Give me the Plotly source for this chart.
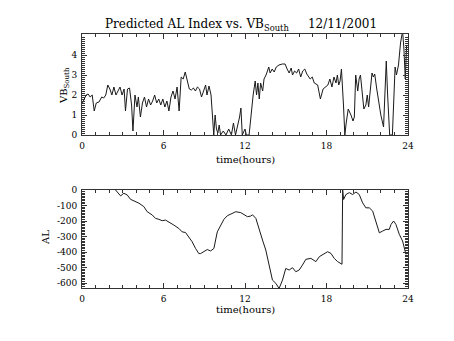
import plotly.graph_objects as go
from plotly.subplots import make_subplots

# ---- VB_South (top panel) ----
vb_hours = [
    0.0, 0.15, 0.3, 0.45, 0.6, 0.75, 0.9, 1.05, 1.25, 1.45, 1.6, 1.75, 1.9, 2.05, 2.2,
    2.35, 2.5, 2.65, 2.8, 2.95, 3.1, 3.2, 3.35, 3.5, 3.65, 3.75, 3.9, 4.05, 4.15, 4.3,
    4.45, 4.6, 4.75, 4.9, 5.05, 5.2, 5.35, 5.5, 5.65, 5.8, 5.95, 6.1, 6.25, 6.4, 6.55,
    6.7, 6.85, 7.0, 7.15, 7.3, 7.45, 7.6, 7.75, 7.9, 8.05, 8.2, 8.35, 8.5, 8.65, 8.8,
    8.95, 9.1, 9.2, 9.35, 9.5, 9.6, 9.7, 9.8, 9.9, 10.0, 10.1, 10.2, 10.4, 10.6, 10.8,
    11.0, 11.15, 11.3, 11.45, 11.6, 11.7, 11.8, 12.0, 12.1, 12.3, 12.45, 12.6, 12.75,
    12.85, 12.95, 13.05, 13.15, 13.3, 13.4, 13.55, 13.75, 13.85, 14.0, 14.15, 14.3,
    14.5, 14.75, 14.95, 15.1, 15.25, 15.4, 15.5, 15.65, 15.8, 15.95, 16.1, 16.25, 16.4,
    16.55, 16.8, 16.95, 17.1, 17.35, 17.55, 17.75, 17.9, 18.1, 18.25, 18.4, 18.55, 18.7,
    18.8, 18.9, 19.0, 19.1, 19.25, 19.35, 19.45, 19.6, 19.8, 19.95, 20.05, 20.15, 20.3,
    20.4, 20.5, 20.65, 20.75, 20.9, 21.0, 21.1, 21.25, 21.35, 21.45, 21.55, 21.7, 21.8,
    22.0, 22.2, 22.4, 22.5, 22.65, 22.85, 22.95, 23.05, 23.15, 23.3, 23.45, 23.6, 23.7,
    23.8, 23.9,
]
vb_south = [
    1.55, 1.8, 2.0, 2.05, 1.9, 2.0, 1.2, 1.6, 1.65, 1.9, 1.85, 2.0, 2.5, 2.3, 2.0,
    2.4, 2.0, 2.2, 2.4, 2.0, 2.3, 1.2, 2.3, 2.35, 1.5, 0.2, 2.0, 1.4, 1.9, 0.9,
    1.6, 1.9, 1.4, 1.8, 1.5, 1.7, 2.0, 1.6, 1.8, 1.5, 1.8, 1.4, 1.7, 1.2, 1.9,
    2.2, 1.8, 2.4, 1.2, 2.9, 2.8, 3.15, 2.7, 2.3, 2.25, 2.35, 2.2, 2.4, 2.3, 1.9,
    2.2, 2.5, 2.0, 2.45, 2.0, 1.0, 0.0, 1.0, 0.3, 0.1, 0.5, 0.0, 0.2, 0.0, 0.3,
    0.0, 0.6, 0.0, 0.4, 0.9, 1.35, 0.0, 0.3, 0.0, 0.0, 1.2, 2.0, 2.7,
    2.0, 2.6, 1.8, 2.6, 2.2, 2.8, 3.0, 3.4, 3.1, 3.3, 3.15, 3.4,
    3.5, 3.55, 3.55, 3.3, 3.1, 3.35, 3.0, 3.2, 3.1, 3.3, 2.9, 3.2, 3.3,
    3.05, 2.8, 2.9, 2.6, 2.5, 1.8, 2.3, 2.4, 2.5, 2.8, 2.4, 2.9, 2.6,
    3.0, 2.5, 2.7, 3.3, 1.5, 0.0, 0.6, 1.3, 1.0, 0.7, 0.9, 3.0, 2.2,
    2.8, 3.0, 2.0, 1.3, 1.5, 2.0, 1.4, 2.6, 3.1, 2.9, 3.05, 2.3, 1.8,
    1.0, 0.4, 3.7, 2.0, 0.0, 0.0, 1.5, 3.4, 3.0, 3.5, 4.6, 5.2, 4.3,
    2.8, 4.5,
]

# ---- Predicted AL index (bottom panel) ----
al_hours = [
    2.47, 2.84, 3.08, 3.33, 3.57, 3.94, 4.19, 4.55, 4.8, 5.17, 5.41, 5.66, 5.9, 6.15,
    6.39, 6.76, 7.13, 7.37, 7.62, 7.86, 8.11, 8.36, 8.6, 8.73, 8.97, 9.22, 9.47, 9.71,
    9.96, 10.2, 10.45, 10.7, 11.0, 11.32, 11.69, 11.94, 12.18, 12.43, 12.55, 12.8,
    13.04, 13.29, 13.53, 13.78, 14.02, 14.27, 14.51, 14.76, 15.0, 15.25, 15.5, 15.74,
    15.99, 16.23, 16.48, 16.85, 17.22, 17.47, 17.83, 18.08, 18.33, 18.57, 18.82, 19.14,
    19.19, 19.26, 19.43, 19.68, 19.92, 20.17, 20.41, 20.66, 20.9, 21.15, 21.4, 21.64,
    21.89, 22.13, 22.38, 22.62, 22.75, 22.94, 23.11, 23.36, 23.6, 23.85,
]
al_index = [
    0, -38, -21, -32, -60, -75, -85, -107, -140, -161, -183, -189, -198, -194,
    -205, -226, -248, -270, -274, -302, -334, -377, -410, -410, -395, -384, -393, -377,
    -270, -226, -189, -166, -151, -140, -146, -161, -172, -168, -160, -183,
    -259, -323, -387, -495, -581, -602, -635, -581, -506, -516, -501, -527,
    -516, -484, -447, -441, -462, -430, -409, -398, -409, -441, -462, -479,
    0, -61, -29, -17, -29, -13, -29, -83, -115, -115, -136, -211,
    -276, -265, -254, -254, -222, -200, -222, -286, -329, -415,
]

hour_ticks = [0, 6, 12, 18, 24]
vb_ticks = [0, 1, 2, 3, 4]
al_ticks = [0, -100, -200, -300, -400, -500, -600]
al_tick_text = ["0", "-100", "-200", "-300", "-400", "-500", "-600"]

FONT = "DejaVu Serif"
INK = "#333333"

W, H = 454, 341
ML, MR, MT, MB = 82, 46, 34, 53
PW = W - ML - MR
PH = H - MT - MB


def py(px):
    """Pixel row -> paper fraction."""
    return (H - MB - px) / PH


def px_x(px):
    """Pixel column -> paper fraction."""
    return (px - ML) / PW


fig = make_subplots(rows=2, cols=1)
fig.add_trace(go.Scatter(x=vb_hours, y=vb_south, mode="lines",
                         line=dict(color="#1a1a1a", width=1)), row=1, col=1)
fig.add_trace(go.Scatter(x=al_hours, y=al_index, mode="lines",
                         line=dict(color="#1a1a1a", width=1)), row=2, col=1)

axis_common = dict(
    showline=True, linecolor=INK, linewidth=1, mirror="ticks",
    ticks="inside", ticklen=5, tickcolor=INK, tickwidth=1,
    showgrid=False, zeroline=False,
    tickfont=dict(family=FONT, size=9, color="black"),
)

fig.update_layout(
    xaxis=dict(axis_common, domain=[0, 1], range=[0, 24], tickvals=hour_ticks,
               minor=dict(dtick=1, ticklen=3, ticks="inside", tickcolor=INK),
               ticklabelstandoff=2, anchor="y"),
    yaxis=dict(axis_common, domain=[py(135), py(34)], range=[0, 5.05],
               tickvals=vb_ticks,
               minor=dict(dtick=0.1, ticklen=3, ticks="inside", tickcolor=INK),
               ticklabelstandoff=2, anchor="x"),
    xaxis2=dict(axis_common, domain=[0, 1], range=[0, 24], tickvals=hour_ticks,
                minor=dict(dtick=1, ticklen=3, ticks="inside", tickcolor=INK),
                ticklabelstandoff=2, anchor="y2"),
    yaxis2=dict(axis_common, domain=[0, py(190)], range=[-632, 0],
                tickvals=al_ticks, ticktext=al_tick_text,
                minor=dict(dtick=10, ticklen=3, ticks="inside", tickcolor=INK),
                ticklabelstandoff=2, anchor="x2"),
    width=W, height=H,
    margin=dict(l=ML, r=MR, t=MT, b=MB),
    paper_bgcolor="white", plot_bgcolor="white",
    showlegend=False,
    font=dict(family=FONT, color="black"),
)

NB = "\u00a0"
ann = [
    dict(text="Predicted AL Index vs. VB<sub>South</sub>" + NB * 5 + "12/11/2001",
         x=px_x(241), y=py(25), size=12),
    dict(text="time(hours)", x=px_x(245), y=py(159), size=10),
    dict(text="time(hours)", x=px_x(245), y=py(309), size=10),
]
for a in ann:
    fig.add_annotation(text=a["text"], x=a["x"], y=a["y"], xref="paper", yref="paper",
                       xanchor="center", yanchor="middle", showarrow=False,
                       font=dict(family=FONT, size=a["size"], color="black"))

fig.add_annotation(text="VB<sub>South</sub>", x=px_x(64), y=py(86),
                   xref="paper", yref="paper", xanchor="center", yanchor="middle",
                   textangle=-90, showarrow=False,
                   font=dict(family=FONT, size=10, color="black"))
fig.add_annotation(text="AL", x=px_x(45), y=py(238),
                   xref="paper", yref="paper", xanchor="center", yanchor="middle",
                   textangle=-90, showarrow=False,
                   font=dict(family=FONT, size=10, color="black"))

fig.write_html("out.html")
